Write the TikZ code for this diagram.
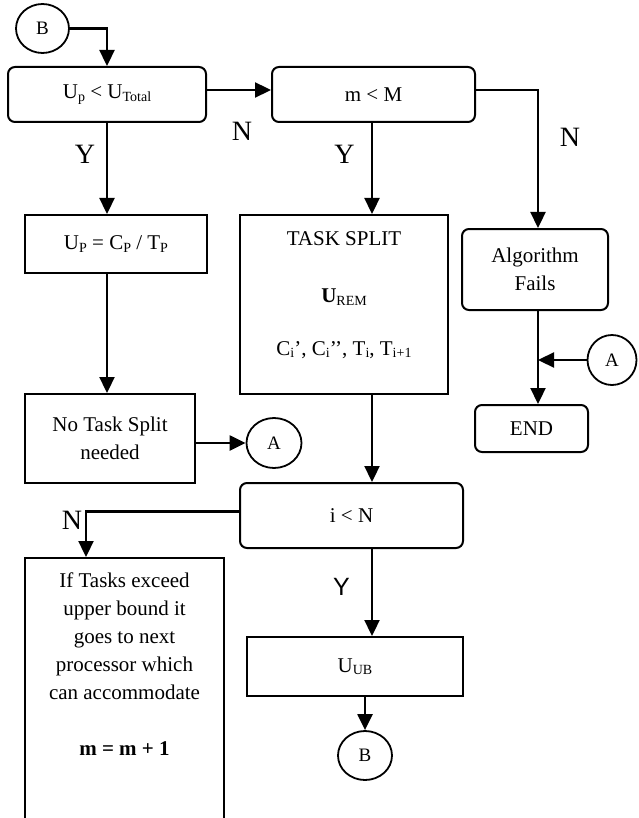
\documentclass[tikz,border=0pt]{standalone}
\usepackage{fontspec}
\setmainfont{Liberation Serif}
\newfontfamily\arialf{Liberation Sans}
\usetikzlibrary{arrows.meta,shapes.geometric}
\newcommand{\sbs}[1]{\raisebox{-2.5pt}{\fontsize{14}{14}\selectfont #1}}
\begin{document}
\begin{tikzpicture}[x=1pt,y=-1pt,
  txt/.style={font=\fontsize{21}{28}\selectfont,align=center,inner sep=0pt},
  box/.style={txt,draw,line width=2pt},
  rbox/.style={box,rounded corners=7pt},
  conn/.style={draw,ellipse,line width=1.8pt,inner sep=0pt,font=\fontsize{19}{19}\selectfont},
  line/.style={line width=2.3pt},
  arr/.style={line,-{Triangle[length=16pt,width=15pt]}},
  lab/.style={font=\fontsize{28}{28}\selectfont,inner sep=0pt}]
\clip (0,0) rectangle (638,818);
\fill[white] (0,0) rectangle (638,818);
% nodes
\node[conn,minimum width=53pt,minimum height=49pt] (B1) at (42.5,28.5) {B};
\node[rbox,minimum width=198pt,minimum height=55pt] (c1) at (107,94.5) {U\sbs{p} < U\sbs{Total}};
\node[rbox,minimum width=203pt,minimum height=55pt] (c2) at (373.5,94.5) {m < M};
\node[box,minimum width=182pt,minimum height=58pt] (up) at (116,244) {U\sbs{P} = C\sbs{P} / T\sbs{P}};
\node[box,minimum width=170pt,minimum height=89pt] (nts) at (110,438.5) {No Task Split\\needed};
\node[conn,minimum width=55pt,minimum height=50pt] (A1) at (274,443) {A};
\node[box,minimum width=208pt,minimum height=179pt] (ts) at (344,304.5) {};
\node[txt] (ts1) at (344,239) {TASK SPLIT};
\node[txt] (ts2) at (344,297) {\textbf{U}\sbs{REM}};
\node[txt] (ts3) at (344,350) {C\sbs{i}’, C\sbs{i}’’, T\sbs{i}, T\sbs{i+1}};
\node[rbox,minimum width=146pt,minimum height=81pt] (af) at (535,269.5) {Algorithm\\Fails};
\node[conn,minimum width=49pt,minimum height=50pt] (A2) at (612,360) {A};
\node[rbox,minimum width=113pt,minimum height=47pt] (end) at (531.5,428.5) {END};
\node[rbox,minimum width=223pt,minimum height=65pt] (in) at (351.5,515.5) {i < N};
\node[box,minimum width=199pt,minimum height=290pt,anchor=north] (ift) at (124.5,557) {};
\node[txt,anchor=north] (ift1) at (124.5,573) {If Tasks exceed\\upper bound it\\goes to next\\processor which\\can accommodate\\[28pt]\textbf{m = m + 1}};
\node[box,minimum width=216pt,minimum height=59pt] (uub) at (355,666.5) {U\sbs{UB}};
\node[conn,minimum width=54pt,minimum height=49pt] (B2) at (365,755.5) {B};
% connectors
\draw[arr] (B1.east) -| (c1.north);
\draw[arr] ([yshift=4.5pt]c1.east) -- ([yshift=4.5pt]c2.west);
\draw[arr] ([yshift=4.5pt]c2.east) -| ([xshift=3pt]af.north);
\draw[arr] (c1.south) -- (c1.south |- up.north);
\draw[arr] (c1.south |- up.south) -- (c1.south |- nts.north);
\draw[arr] (nts.east |- A1.west) -- (A1.west);
\draw[arr] ([xshift=-1.5pt]c2.south) -- ([xshift=-1.5pt]c2.south |- ts.north);
\draw[arr] ([xshift=-1.5pt]c2.south |- ts.south) -- ([xshift=-1.5pt]c2.south |- in.north);
\draw[arr] ([xshift=3pt]af.south) -- ([xshift=3pt]af.south |- end.north);
\coordinate (j) at ([xshift=3pt]af.south |- A2.west);
\draw[arr] (A2.west) -- (j);
\draw[arr] ([yshift=4pt]in.west) -| ([xshift=-38.5pt]ift.north);
\draw[arr] ([xshift=20.5pt]in.south) -- ([xshift=20.5pt]in.south |- uub.north);
\draw[arr] (uub.south -| B2.north) -- (B2.north);
% labels
\node[lab] (lN1) at (242,131) {N};
\node[lab] (lY1) at (85,154) {Y};
\node[lab] (lY2) at (344.5,154.5) {Y};
\node[lab] (lN2) at (570,137) {N};
\node[lab] (lN3) at (72,520) {N};
\node[lab,font=\arialf\fontsize{25}{25}\selectfont] (lY3) at (341.5,587) {Y};
\end{tikzpicture}
\end{document}
